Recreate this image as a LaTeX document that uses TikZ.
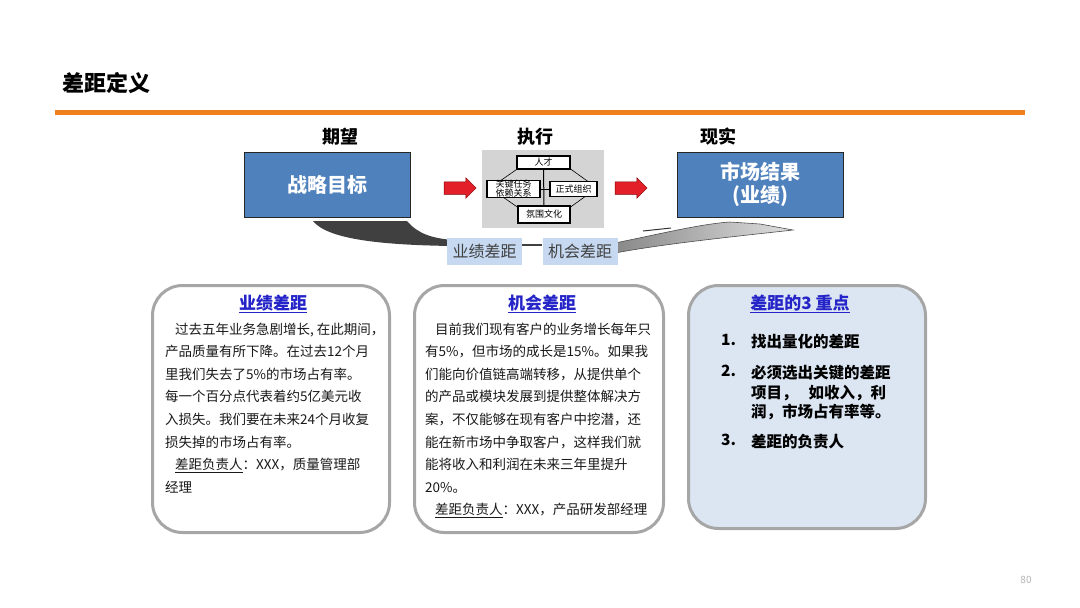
\documentclass[tikz,border=0pt]{standalone}
\usepackage{fontspec}
\setmainfont{Noto Sans CJK SC}
\usetikzlibrary{shapes.arrows}

\definecolor{rulebar}{HTML}{F07F1E}
\definecolor{goalblue}{HTML}{4F81BD}
\definecolor{panelgray}{HTML}{D4D4D4}
\definecolor{labelblue}{HTML}{C6D9F1}
\definecolor{boxline}{HTML}{A6A6A6}
\definecolor{notefill}{HTML}{DCE6F2}
\definecolor{headblue}{HTML}{2424C8}
\definecolor{arrowred}{HTML}{E3202A}
\definecolor{swooshdark}{HTML}{404040}

\tikzset{
  colhead/.style={font=\fontsize{18}{20}\selectfont\bfseries,inner sep=0pt},
  bluebox/.style={draw=black!85,fill=goalblue,text=white,line width=1pt,minimum width=166pt,minimum height=65pt,align=center,font=\fontsize{20}{23}\selectfont\bfseries},
  keybox/.style={draw=black,fill=white,line width=1.1pt,inner sep=0pt,align=center,font=\fontsize{9}{9}\selectfont},
  redarrow/.style={single arrow,fill=arrowred,draw=red!50!black,line width=0.5pt,inner xsep=0pt,inner ysep=6pt,minimum height=32pt,single arrow head extend=4pt},
  gaplabel/.style={fill=labelblue,text=black!75,minimum width=75pt,minimum height=27pt,inner sep=0pt,font=\fontsize{16}{18}\selectfont},
  gapbox/.style={draw=boxline,line width=3pt,rounded corners=30pt,fill=white,minimum width=237pt,minimum height=247pt},
  boxtitle/.style={text=headblue,font=\fontsize{17}{19}\selectfont\bfseries,inner sep=0pt},
  bodytext/.style={anchor=north west,align=left,inner sep=0pt,text=black!90,font=\fontsize{13.5}{22.6}\selectfont},
  pointnum/.style={anchor=north west,inner sep=0pt,font=\fontsize{15.5}{19.5}\selectfont\bfseries},
  pointtext/.style={anchor=north west,align=left,inner sep=0pt,font=\fontsize{15.5}{19.5}\selectfont\bfseries}
}

\begin{document}
\begin{tikzpicture}[x=1pt,y=-1pt]
  \useasboundingbox (0,0) rectangle (1080,608);
  % header
  \node[anchor=west,inner sep=0pt,font=\fontsize{22}{24}\selectfont\bfseries] (title) at (62,83) {差距定义};
  \fill[rulebar] (55,110) rectangle (1025,114.5);
  \node[colhead] (hope) at (340,137) {期望};
  \node[colhead] (exec) at (535,137) {执行};
  \node[colhead] (real) at (718,137) {现实};
  % swooshes under the top row
  \fill[swooshdark] (313,221) -- (407,221) .. controls (418,234) and (432,238) .. (452,240) -- (452,246) .. controls (385,245) and (328,240) .. (313,221) -- cycle;
  \shade[left color=gray!95,right color=gray!25,draw=black!70,line width=0.6pt] (610,244) .. controls (660,234) and (700,224) .. (730,222) -- (760,224) -- (793,230) .. controls (740,236) and (660,244) .. (610,254) -- cycle;
  \draw[black!80,line width=1pt] (643,231) -- (671,228);
  % expectation and reality
  \node[bluebox] (goal) at (327.5,184.5) {战略目标};
  \node[bluebox] (result) at (760,184.5) {市场结果\\(业绩)};
  % execution panel
  \node[fill=panelgray,minimum width=122pt,minimum height=78pt,inner sep=0pt] (panel) at (543,189) {};
  \draw[black,line width=0.6pt] (523,165) -- (565,165) -- (597,188) -- (565,211) -- (523,211) -- (490,188) -- cycle;
  \node[keybox,minimum width=53pt,minimum height=13pt] (talent) at (543.5,162.5) {人才};
  \node[keybox,minimum width=52pt,minimum height=17pt] (culture) at (544,214.5) {氛围文化};
  \draw[black,line width=1pt] (talent.south) -- (culture.north);
  \node[keybox,minimum width=53pt,minimum height=15pt] (tasks) at (513.5,189) {关键任务\\依赖关系};
  \node[keybox,minimum width=47pt,minimum height=15pt] (org) at (573.5,189) {正式组织};
  \draw[black,line width=1pt] (tasks.east) -- (org.west);
  \node[redarrow] (arr1) at (457,188) {};
  \node[redarrow] (arr2) at (628,188) {};
  % gap labels
  \node[gaplabel] (perfgap) at (484.5,251.5) {业绩差距};
  \node[gaplabel] (oppgap) at (580,251.5) {机会差距};
  \draw[swooshdark,line width=1.2pt] ([yshift=6.5pt]perfgap.east) -- ([yshift=6.5pt]oppgap.west);
  % three boxes
  \node[gapbox] (perfbox) at (271,409) {};
  \node[gapbox,minimum width=249pt] (oppbox) at (539,409) {};
  \node[gapbox,fill=notefill,minimum width=237pt,minimum height=243pt] (keybox) at (807,407) {};
  \node[boxtitle] (perfhead) at (273,304) {\underline{业绩差距}};
  \node[boxtitle] (opphead) at (542,304) {\underline{机会差距}};
  \node[boxtitle] (keyhead) at (800,304) {\underline{差距的3 重点}};
  \node[bodytext] (perftext) at (165,322.5) {\hspace*{10pt}过去五年业务急剧增长, 在此期间，\\产品质量有所下降。在过去12个月\\里我们失去了5\%的市场占有率。\\每一个百分点代表着约5亿美元收\\入损失。我们要在未来24个月收复\\损失掉的市场占有率。\\\hspace*{10pt}\underline{差距负责人}：XXX，质量管理部\\经理};
  \node[bodytext] (opptext) at (425,322.5) {\hspace*{10pt}目前我们现有客户的业务增长每年只\\有5\%，但市场的成长是15\%。如果我\\们能向价值链高端转移，从提供单个\\的产品或模块发展到提供整体解决方\\案，不仅能够在现有客户中挖潜，还\\能在新市场中争取客户，这样我们就\\能将收入和利润在未来三年里提升\\20\%。\\\hspace*{10pt}\underline{差距负责人}：XXX，产品研发部经理};
  \node[pointnum] (num1) at (721,334) {1.};
  \node[pointtext] (point1) at (751,334) {找出量化的差距};
  \node[pointnum] (num2) at (721,365) {2.};
  \node[pointtext] (point2) at (751,365) {必须选出关键的差距\\项目，\hspace{0.7em}如收入，利\\润，市场占有率等。};
  \node[pointnum] (num3) at (721,434) {3.};
  \node[pointtext] (point3) at (751,434) {差距的负责人};
  % page number
  \node[text=black!30,font=\fontsize{10}{12}\selectfont,inner sep=0pt] (pageno) at (1026,580) {80};
\end{tikzpicture}
\end{document}
